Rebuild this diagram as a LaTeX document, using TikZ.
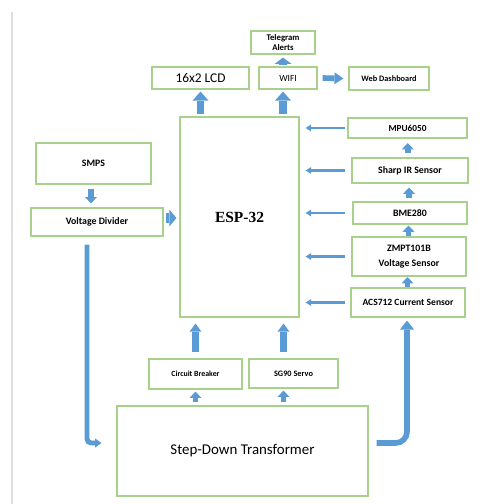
\documentclass[tikz,border=0pt]{standalone}
\usepackage{fontspec}
\setmainfont{Carlito}
\newfontfamily\espfont{Liberation Serif}
\usepackage{tikz}
\usetikzlibrary{calc}
\usetikzlibrary{arrows.meta}
\usetikzlibrary{positioning}
\definecolor{boxgreen}{RGB}{169,209,142}
\definecolor{arrowblue}{RGB}{91,155,213}
\tikzset{blk/.style={draw=boxgreen,line width=0.8pt,inner sep=0pt,align=center,font=\bfseries\fontsize{7}{8}\selectfont}}
\tikzset{sz/.style 2 args={minimum width=#1*0.025cm,minimum height=#2*0.025cm}}
\tikzset{
bigarrow/.style={draw=arrowblue,line width=5pt,-{Triangle[width=11.5pt,length=6.5pt,line width=0pt]}},
midarrow/.style={draw=arrowblue,line width=4.3pt,-{Triangle[width=8.5pt,length=5.7pt,line width=0pt]}},
smallarrow/.style={draw=arrowblue,line width=4pt,-{Triangle[width=8.5pt,length=4.5pt,line width=0pt]}},
sidearrow/.style={draw=arrowblue,line width=2pt,-{Triangle[width=5pt,length=4pt,line width=0pt]}},
fatarrow/.style={draw=arrowblue,line width=6.5pt,-{Triangle[width=12pt,length=5pt,line width=0pt]}},
bendarrow/.style={draw=arrowblue,line width=3.5pt,-{Triangle[width=6.5pt,length=4.5pt,line width=0pt]}}
}

\begin{document}
\begin{tikzpicture}[x=0.025cm,y=-0.025cm]
\useasboundingbox (0,0) rectangle (497,504);
\draw[gray!25,line width=1pt] (12,12) -- (12,504);

% top row
\node[blk,sz={64}{23},font=\bfseries\fontsize{6.2}{7.2}\selectfont] (tele) at (283,42.5) {Telegram\\Alerts};
\node[blk,sz={97}{22},font=\fontsize{9.5}{11}\selectfont] (lcd) at (200.5,78) {16x2 LCD};
\node[blk,sz={58}{22},font=\fontsize{6.7}{8}\selectfont] (wifi) at (288,78) {WIFI};
\node[blk,sz={80}{23},font=\bfseries\fontsize{5.9}{7}\selectfont] (web) at (389,78.5) {Web Dashboard};

% left column
\node[blk,sz={115}{41}] (smps) at (93.5,163.5) {SMPS};
\node[blk,sz={132}{28}] (vdiv) at (97,222) {Voltage Divider};

% controller
\node[blk,sz={119}{200},font=\espfont\bfseries\fontsize{11}{13}\selectfont] (esp) at (239.5,217) {ESP-32};

% sensors
\node[blk,sz={119}{20},font=\bfseries\fontsize{6.6}{8}\selectfont] (mpu) at (407.5,128) {MPU6050};
\node[blk,sz={116}{25}] (sharp) at (410,170.5) {Sharp IR Sensor};
\node[blk,sz={114}{22}] (bme) at (410,213) {BME280};
\node[blk,sz={114}{39},font=\bfseries\fontsize{7}{10.7}\selectfont] (zmpt) at (409,256.5) {ZMPT101B\\Voltage Sensor};
\node[blk,sz={114}{29},font=\bfseries\fontsize{6.8}{8}\selectfont] (acs) at (408,302.5) {ACS712 Current Sensor};

% bottom
\node[blk,sz={93}{30},font=\bfseries\fontsize{5.6}{7}\selectfont] (cb) at (195.5,374) {Circuit Breaker};
\node[blk,sz={89}{29},font=\bfseries\fontsize{5.9}{7}\selectfont] (servo) at (293.5,373.5) {SG90 Servo};
\node[blk,sz={251}{90},font=\fontsize{10.6}{12}\selectfont] (xfmr) at (242.5,451) {Step-Down Transformer};

% arrows, top
\draw[bigarrow] ($(esp.north -| lcd.south)+(0,-2)$) -- ($(lcd.south)+(0,2)$);
\draw[bigarrow] ($(esp.north -| tele.south)+(0,-2)$) -- ($(wifi.south -| tele.south)+(0,2)$);
\draw[smallarrow,line width=5pt,-{Triangle[width=12pt,length=4.5pt,line width=0pt]}] ($(wifi.north -| tele.south)+(0,-1)$) -- ($(tele.south)+(0,3)$);
\draw[smallarrow,-{Triangle[width=8.5pt,length=6.4pt,line width=0pt]}] ($(wifi.east)+(5,0)$) -- ($(web.west)+(-5,0)$);

% arrows, left
\draw[smallarrow] ($(smps.south)+(-2.5,4)$) -- ($(vdiv.north -| smps.south)+(-2.5,-4)$);
\draw[fatarrow] ($(vdiv.east)+(2,-4)$) -- ($(vdiv.east -| esp.west)+(-3,-4)$);

% sensors into esp
\foreach \n in {mpu,sharp,bme,zmpt,acs}
  \draw[sidearrow] ($(\n.west -| mpu.west)+(-2,0)$) -- ($(\n.west -| esp.east)+(6,0)$);
\foreach \a/\b in {acs/zmpt,zmpt/bme,bme/sharp,sharp/mpu}
  \draw[smallarrow] ($(\a.north)!.5!(\b.south)+(-1,5)$) -- ($(\a.north)!.5!(\b.south)+(-1,-5)$);

% arrows, bottom
\draw[smallarrow] ($(xfmr.north -| cb.south)+(0,-3)$) -- ($(cb.south)+(0,2)$);
\draw[smallarrow] ($(xfmr.north -| servo.south)+(-10,-3)$) -- ($(servo.south)+(-10,2)$);
\draw[midarrow] ($(cb.north)+(0,-6)$) -- ($(esp.south -| cb.north)+(0,6)$);
\draw[midarrow] ($(servo.north)+(-10,-6)$) -- ($(esp.south -| servo.north)+(-10,6)$);

% bent arrows
\draw[bendarrow,rounded corners=3pt] ($(vdiv.south)+(-10,8)$) |- ($(xfmr.west)+(-15,-8)$);
\draw[bendarrow,line width=4pt,rounded corners=8pt,-{Triangle[width=10pt,length=6.4pt,line width=0pt]}] ($(xfmr.east)+(8,-8)$) -| ($(acs.south)+(-1,3)$);

\end{tikzpicture}
\end{document}
